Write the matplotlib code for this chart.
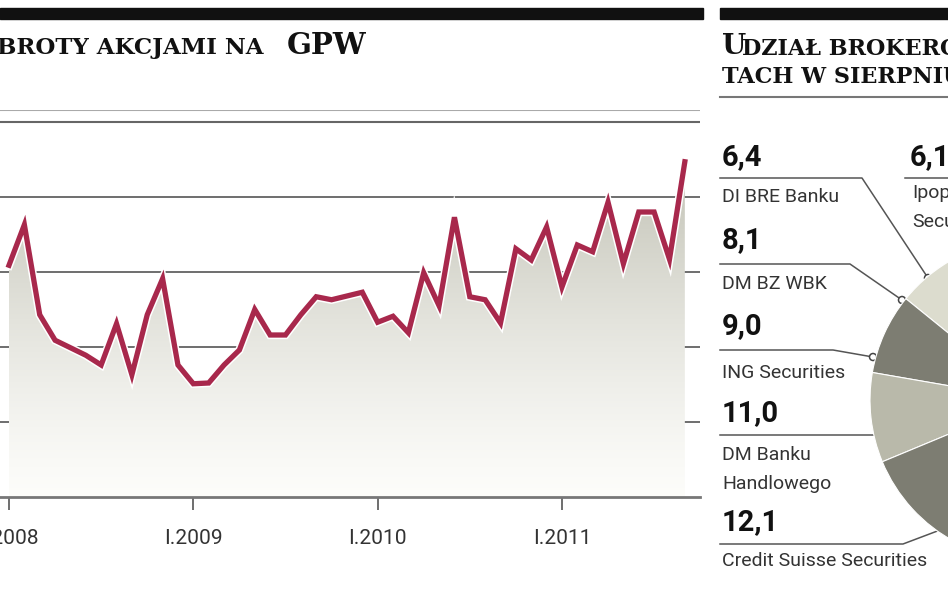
import matplotlib
matplotlib.use("Agg")
import matplotlib.pyplot as plt
import numpy as np
from matplotlib.patches import Polygon, Circle
import matplotlib.patheffects as pe

# ---- data ----
turnover = [30.9, 36.3, 24.3, 20.9, 19.9, 18.9, 17.6, 23.1, 16.3, 24.3, 29.1, 17.6,
            15.1, 15.2, 17.6, 19.6, 25.0, 21.6, 21.6, 24.3, 26.7, 26.3, 26.8, 27.3,
            23.3, 24.1, 21.9, 29.9, 25.5, 37.3, 26.7, 26.3, 23.2, 33.1, 31.6, 36.0,
            28.0, 33.6, 32.7, 39.3, 31.1, 38.0, 38.0, 31.7, 44.7]  # Jan 2008 .. Sep 2011
tick_months = [0, 12, 24, 36]
tick_labels = ["I.2008", "I.2009", "I.2010", "I.2011"]
grid_values = [10, 20, 30, 40, 50]

brokers = ["Ipopema\nSecurities", "DI BRE Banku", "DM BZ WBK", "ING Securities",
           "DM Banku\nHandlowego", "Credit Suisse Securities", "Pozostali"]
shares = [6.1, 6.4, 8.1, 9.0, 11.0, 12.1, 47.3]
share_labels = ["6,1", "6,4", "8,1", "9,0", "11,0", "12,1", ""]

W, H = 948, 593
fig = plt.figure(figsize=(W / 100, H / 100), dpi=100)

ov = fig.add_axes([0, 0, 1, 1])
ov.set_xlim(0, W); ov.set_ylim(H, 0); ov.axis("off")

def fx(px): return px / W
def fy(py): return 1 - py / H

# ---- line chart ----
ax = fig.add_axes([fx(0), fy(497), fx(700), fy(110) - fy(497)])
x = np.arange(len(turnover))
sp = 15.36
x0 = 9
ax.set_xlim(-x0 / sp, (700 - x0) / sp)
ax.set_ylim(0, (497 - 110) / 7.5)
for s in ax.spines.values():
    s.set_visible(False)
for g in grid_values[:-1]:
    ax.axhline(g, color="#555555", lw=1.2, zorder=1)
ax.axhline(grid_values[-1], color="#666666", lw=1.5, zorder=1)
ax.axhline((497 - 110) / 7.5, color="#aaaaaa", lw=1.5, zorder=1)
ax.axhline(0, color="#777777", lw=2, zorder=5, clip_on=False)

verts = [(x[0], 0)] + list(zip(x, turnover)) + [(x[-1], 0)]
poly = Polygon(verts, closed=True, facecolor="none", edgecolor="none")
ax.add_patch(poly)
grad = np.linspace(0, 1, 256).reshape(-1, 1)
top = np.array([0.76, 0.76, 0.71]); bot = np.array([0.99, 0.99, 0.98])
img = bot + (top - bot) * grad[::-1] ** 1.3
img = np.repeat(img[:, None, :], 2, axis=1)
im = ax.imshow(img, extent=[x[0], x[-1], 0, 45], aspect="auto", origin="upper", zorder=2)
im.set_clip_path(poly)

ax.plot(x, turnover, color="#a8284c", lw=3.8, zorder=6, solid_joinstyle="miter",
        path_effects=[pe.Stroke(linewidth=6, foreground="white"), pe.Normal()])
ax.set_xticks(tick_months)
ax.set_xticklabels(tick_labels, fontsize=15, color="#333333", fontfamily="Roboto")
ax.tick_params(axis="x", length=9, width=1.2, color="#555555", pad=14)
ax.set_yticks([])

# ---- headers ----
ov.add_patch(plt.Rectangle((0, 8), 703, 11, color="#111111"))
ov.add_patch(plt.Rectangle((720, 8), 228, 11, color="#111111"))
ov.text(-3, 48, "BROTY AKCJAMI NA", fontsize=16.5, fontweight="bold", fontfamily="DejaVu Serif",
        va="center", ha="left", color="#111111")
ov.text(287, 46, "GPW", fontsize=21, fontweight="bold", fontfamily="DejaVu Serif",
        va="center", ha="left", color="#111111")
ov.text(722, 47, "U", fontsize=20, fontweight="bold", fontfamily="DejaVu Serif", va="center", color="#111111")
ov.text(742, 49, "DZIAŁ BROKERÓW", fontsize=16, fontweight="bold", fontfamily="DejaVu Serif", va="center", color="#111111")
ov.text(722, 77, "TACH W SIERPNIU", fontsize=16, fontweight="bold", fontfamily="DejaVu Serif", va="center", color="#111111")
ov.plot([720, 948], [97, 97], color="#777777", lw=1.5)

# ---- pie ----
cx, cy, r = 1031, 400, 161
pax = fig.add_axes([fx(cx - r), fy(cy + r), 2 * r / W, 2 * r / H])
cols = ["#ccccbd", "#dcdcce", "#7d7d72", "#b9b9aa", "#7d7d72", "#dcdcce", "#9a9a8e"]
pax.pie(shares, colors=cols, startangle=96, counterclock=True,
        wedgeprops=dict(edgecolor="white", linewidth=0.8))
pax.set_xlim(-1, 1); pax.set_ylim(-1, 1)
pax.set_aspect("auto")

# labels
lab_y = [(157, 190), (157, 197), (240, 284), (326, 373), (413, 455), (522, 561)]
lab_x = [910, 722, 722, 722, 722, 722]
for i in range(6):
    vy, ny = lab_y[i]
    ov.text(lab_x[i], vy, share_labels[i], fontsize=21, fontweight="bold", fontfamily="Roboto",
            va="center", ha="left", color="#111111")
    name = brokers[i]
    if i == 0:
        ov.text(912, 193, "Ipopema", fontsize=14, fontfamily="Roboto", va="center", color="#333333")
        ov.text(912, 222, "Securities", fontsize=14, fontfamily="Roboto", va="center", color="#333333")
    elif i == 4:
        ov.text(722, 455, "DM Banku", fontsize=14, fontfamily="Roboto", va="center", color="#333333")
        ov.text(722, 484, "Handlowego", fontsize=14, fontfamily="Roboto", va="center", color="#333333")
    else:
        ov.text(722, ny, name, fontsize=14, fontfamily="Roboto", va="center", color="#333333")

leaders = [
    [(905, 178), (948, 178)],
    [(720, 178), (862, 178), (928, 278)],
    [(720, 264), (850, 264), (902, 300)],
    [(720, 350), (833, 350), (873, 357)],
    [(720, 435), (880, 435)],
    [(720, 544), (903, 544), (948, 527)],
]
for i, pts in enumerate(leaders):
    xs, ys = zip(*pts)
    ov.plot(xs, ys, color="#555555", lw=1.1, zorder=10)
    if i in (1, 2, 3, 4):
        ov.add_patch(Circle(pts[-1], 3.5, facecolor="white", edgecolor="#444444", lw=1.1, zorder=11))

fig.savefig("out.png", dpi=100)
